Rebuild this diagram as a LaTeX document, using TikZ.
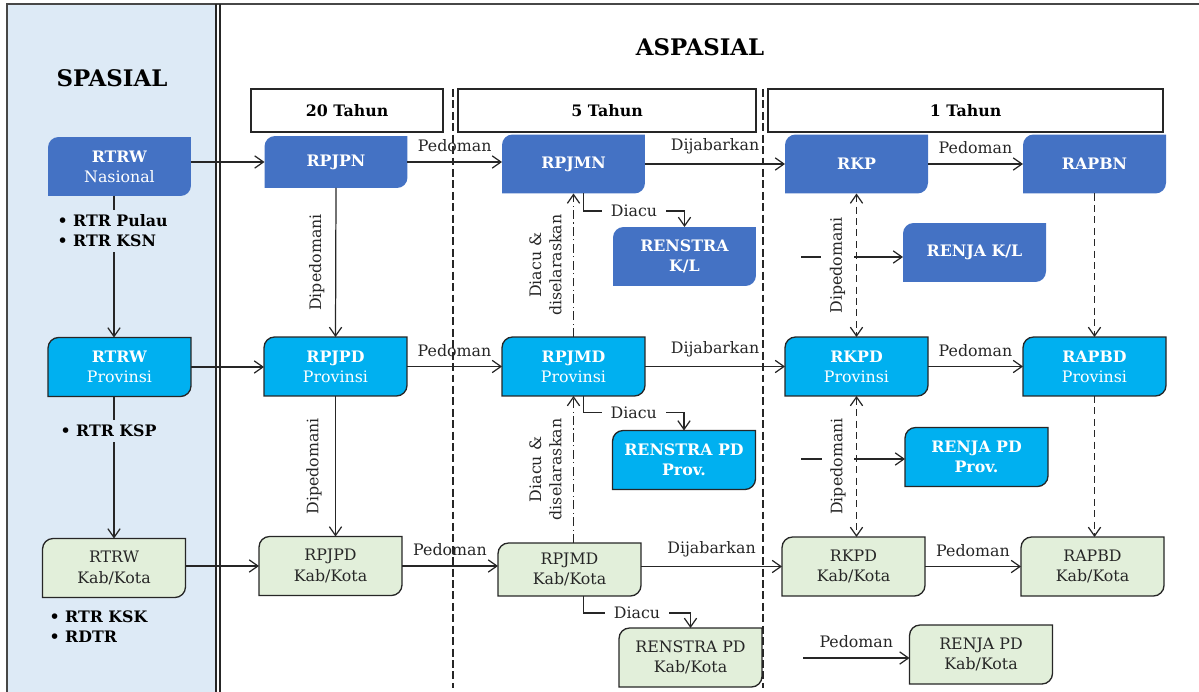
\documentclass[tikz,border=0pt]{standalone}
\usepackage{fontspec}
\setmainfont{DejaVu Serif}
\usetikzlibrary{arrows.meta,calc,backgrounds}

\definecolor{birutua}{RGB}{68,114,196}
\definecolor{birumuda}{RGB}{0,176,240}
\definecolor{hijau}{RGB}{226,239,218}
\definecolor{panel}{RGB}{221,234,246}
\definecolor{garis}{RGB}{38,38,38}

\tikzset{
	kotak/.style={minimum width=2.86cm, minimum height=1.18cm, inner sep=0pt, outer sep=0pt, align=center, font=\fontsize{9}{11.5}\selectfont},
	putih/.style={kotak, text=white},
	hitam/.style={kotak, text=garis},
	tahun/.style={draw=garis, line width=0.9pt, minimum height=0.86cm, inner sep=0pt, font=\fontsize{9}{11}\selectfont\bfseries},
	judul/.style={font=\fontsize{13}{15}\selectfont\bfseries, text=black},
	ket/.style={font=\fontsize{9}{11.5}\selectfont, text=garis},
	poin/.style={fill=panel, align=left, inner sep=3pt, font=\fontsize{9}{11.5}\selectfont\bfseries},
	panah/.style={->, line width=0.7pt, draw=garis},
	putus/.style={dash pattern=on 4pt off 2.5pt},
	titiktitik/.style={dash pattern=on 5pt off 2pt on 0.6pt off 2pt},
}

% kotak dengan sudut kiri atas dan kanan bawah membulat
\newcommand{\bentuk}[2]{%
	\path[#2] (#1.south west) -- ([yshift=-6pt]#1.north west)
	arc[start angle=180, end angle=90, radius=6pt] -- (#1.north east)
	-- ([yshift=6pt]#1.south east)
	arc[start angle=0, end angle=-90, radius=6pt] -- cycle;}

\begin{document}
\begin{tikzpicture}[x=0.02cm, y=0.02cm, >={Straight Barb[length=5pt,width=7pt]}]
	\useasboundingbox (0,0) rectangle (1199,-692);
	
	% Judul
	\node[judul] (spasial) at (112,-78) {SPASIAL};
	\node[judul] (aspasial) at (700,-47) {ASPASIAL};
	
	% Kurun waktu
	\node[tahun, minimum width=3.84cm] (th20) at (347,-110.5) {20 Tahun};
	\node[tahun, minimum width=5.96cm] (th5) at (607,-110.5) {5 Tahun};
	\node[tahun, minimum width=7.9cm] (th1) at (965.5,-110.5) {1 Tahun};
	
	% Tingkat nasional
	\node[putih] (rtrwn) at (119.5,-166.5) {\textbf{RTRW}\\Nasional};
	\node[putih, minimum height=1.04cm] (rpjpn) at (336,-162) {\textbf{RPJPN}};
	\node[putih] (rpjmn) at (573.5,-164) {\textbf{RPJMN}};
	\node[putih] (rkp) at (856.5,-164) {\textbf{RKP}};
	\node[putih] (rapbn) at (1094.5,-164) {\textbf{RAPBN}};
	\node[putih] (renstrakl) at (684.5,-256.5) {\textbf{RENSTRA}\\\textbf{K/L}};
	\node[putih] (renjakl) at (974.5,-252.5) {\textbf{RENJA K/L}};
	
	% Tingkat provinsi
	\node[putih] (rtrwp) at (119.5,-367) {\textbf{RTRW}\\Provinsi};
	\node[putih] (rpjpdp) at (335.5,-366.5) {\textbf{RPJPD}\\Provinsi};
	\node[putih] (rpjmdp) at (573.5,-366.5) {\textbf{RPJMD}\\Provinsi};
	\node[putih] (rkpdp) at (856.5,-366.5) {\textbf{RKPD}\\Provinsi};
	\node[putih] (rapbdp) at (1094.5,-366.5) {\textbf{RAPBD}\\Provinsi};
	\node[putih] (renstrap) at (684,-460) {\textbf{RENSTRA PD}\\\textbf{Prov.}};
	\node[putih] (renjap) at (976.5,-457) {\textbf{RENJA PD}\\\textbf{Prov.}};
	
	% Tingkat kabupaten/kota
	\node[hitam] (rtrwk) at (114,-568) {RTRW\\Kab/Kota};
	\node[hitam] (rpjpdk) at (330.5,-566) {RPJPD\\Kab/Kota};
	\node[hitam, minimum height=1.06cm] (rpjmdk) at (569.5,-569.5) {RPJMD\\Kab/Kota};
	\node[hitam] (rkpdk) at (853.5,-566.5) {RKPD\\Kab/Kota};
	\node[hitam] (rapbdk) at (1092.5,-566.5) {RAPBD\\Kab/Kota};
	\node[hitam] (renstrak) at (690.5,-657.5) {RENSTRA PD\\Kab/Kota};
	\node[hitam] (renjak) at (981,-654.5) {RENJA PD\\Kab/Kota};
	
	% Latar dan bentuk kotak
	\begin{scope}[on background layer]
		\fill[panel] (7,-4) rectangle (217,-692);
		\foreach \n in {rtrwn,rpjpn,rpjmn,rkp,rapbn,renstrakl,renjakl}
			\bentuk{\n}{fill=birutua};
		\foreach \n in {rtrwp,rpjpdp,rpjmdp,rkpdp,rapbdp,renstrap,renjap}
			\bentuk{\n}{fill=birumuda, draw=garis, line width=0.75pt};
		\foreach \n in {rtrwk,rpjpdk,rpjmdk,rkpdk,rapbdk,renstrak,renjak}
			\bentuk{\n}{fill=hijau, draw=garis, line width=0.75pt};
	\end{scope}
	
	% Bingkai
	\draw[garis!85, line width=0.9pt] (7,-692) -- (7,-4) -- (1199,-4);
	\draw[garis, line width=0.6pt] (216,-4) -- (216,-692) (220,-4) -- (220,-692);
	
	% Spasial
	\draw[panah] (rtrwn.south -| rtrwk.north) -- (rtrwp.north -| rtrwk.north);
	\draw[panah] (rtrwp.south -| rtrwk.north) -- (rtrwk.north);
	\node[poin, anchor=west] (poin1) at (52,-231) {• RTR Pulau\\• RTR KSN};
	\node[poin, anchor=west] (poin2) at (55,-431) {• RTR KSP};
	\node[poin, anchor=west] (poin3) at (44,-627) {• RTR KSK\\• RDTR};
	
	\draw[panah] (rtrwn.east |- rpjpn.west) -- (rpjpn.west);
	\draw[panah] (rtrwp.east) -- (rpjpdp.west |- rtrwp.east);
	\draw[panah] (rtrwk.east |- rpjpdk.west) -- (rpjpdk.west);
	
	% 20 tahun
	\draw[panah] (rpjpn.south) -- (rpjpdp.north);
	\draw[panah] (rpjpdp.south) -- (rpjpdk.north -| rpjpdp.south);
	\node[ket, rotate=90] (dp1) at ($(rpjpn.south)!.5!(rpjpdp.north)+(-19,0)$) {Dipedomani};
	\node[ket, rotate=90] (dp2) at ($(rpjpdp.south)!.5!(rpjpdk.north)+(-19,0)$) {Dipedomani};
	
	\draw[panah] (rpjpn.east) -- (rpjmn.west |- rpjpn.east) node[ket, midway, above=2pt] {Pedoman};
	\draw[panah] (rpjpdp.east) -- (rpjmdp.west) node[ket, midway, above=2pt] {Pedoman};
	\draw[panah] (rpjpdk.east) -- (rpjmdk.west |- rpjpdk.east) node[ket, midway, above=2pt] {Pedoman};
	
	% 5 tahun
	\draw[panah, titiktitik] (rpjmdp.north) -- (rpjmn.south);
	\draw[panah, titiktitik] (rpjmdk.north -| rpjmdp.north) -- (rpjmdp.south);
	\node[ket, rotate=90, align=center] (ds1) at ($(rpjmn.south)!.5!(rpjmdp.north)+(-28,0)$) {Diacu \&\\diselaraskan};
	\node[ket, rotate=90, align=center] (ds2) at ($(rpjmdp.south)!.5!(rpjmdk.north)+(-26,0)$) {Diacu \&\\diselaraskan};
	
	\draw[panah] ($(rpjmn.south)+(10,0)$) |- ($(renstrakl.north)+(0,16)$)
		node[ket, pos=.75, fill=white, inner xsep=5pt, inner ysep=1pt] {Diacu} -- (renstrakl.north);
	\draw[panah] ($(rpjmdp.south)+(10,0)$) |- ($(renstrap.north)+(0,18)$)
		node[ket, pos=.75, fill=white, inner xsep=5pt, inner ysep=1pt] {Diacu} -- (renstrap.north);
	\draw[panah] ($(rpjmdk.south)+(14,0)$) |- ($(renstrak.north)+(0,15)$)
		node[ket, pos=.75, fill=white, inner xsep=5pt, inner ysep=1pt] {Diacu} -- (renstrak.north);
	
	\draw[panah] (rpjmn.east) -- (rkp.west) node[ket, midway, above=2pt] {Dijabarkan};
	\draw[panah] (rpjmdp.east) -- (rkpdp.west) node[ket, midway, above=2pt] {Dijabarkan};
	\draw[panah] (rpjmdk.east |- rkpdk.west) -- (rkpdk.west) node[ket, midway, above=2pt] {Dijabarkan};
	
	% 1 tahun
	\draw[panah] (rkp.east) -- (rapbn.west) node[ket, midway, above=2pt] {Pedoman};
	\draw[panah] (rkpdp.east) -- (rapbdp.west) node[ket, midway, above=2pt] {Pedoman};
	\draw[panah] (rkpdk.east) -- (rapbdk.west) node[ket, midway, above=2pt] {Pedoman};
	
	\coordinate (kl) at (801,-257);
	\coordinate (kp) at (801,-459);
	\coordinate (kk) at (803,-658);
	\draw[panah] (kl) -- (kl -| renjakl.west);
	\draw[panah] (kp) -- (kp -| renjap.west);
	\draw[panah] (kk) -- (kk -| renjak.west) node[ket, midway, above=2pt] {Pedoman};
	\node[ket, rotate=90, fill=white, inner ysep=5pt] (dp3) at ($(rkp.south)!.5!(rkpdp.north)+(-19,0)$) {Dipedomani};
	\node[ket, rotate=90, fill=white, inner ysep=5pt] (dp4) at ($(rkpdp.south)!.5!(rkpdk.north)+(-17,0)$) {Dipedomani};
	
	\draw[panah, putus, <->] (rkp.south) -- (rkpdp.north);
	\draw[panah, putus, <->] (rkpdp.south) -- (rkpdk.north -| rkpdp.south);
	\draw[panah, putus] (rapbn.south) -- (rapbdp.north);
	\draw[panah, putus] (rapbdp.south) -- (rapbdk.north -| rapbdp.south);
	
	% Garis pemisah kurun waktu
	\draw[garis, line width=0.8pt, dash pattern=on 4.5pt off 2pt] (453,-89) -- (453,-688);
	\draw[garis, line width=0.8pt, dash pattern=on 4.5pt off 2pt] (763,-89) -- (763,-688);
\end{tikzpicture}
\end{document}
